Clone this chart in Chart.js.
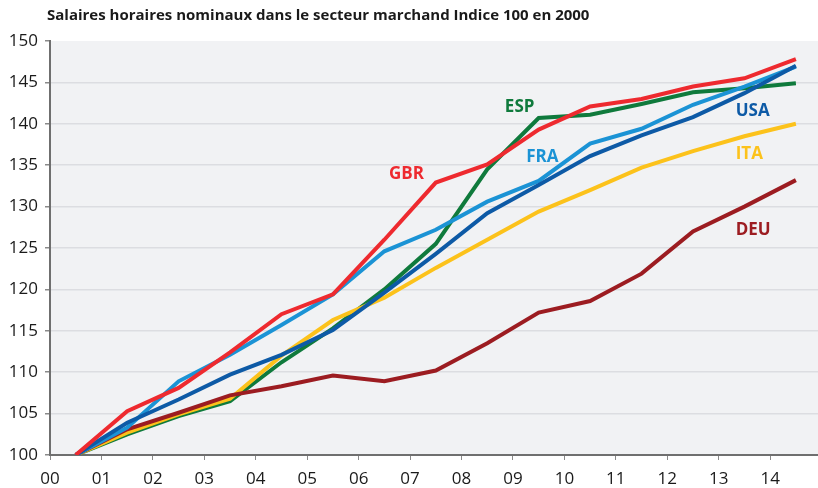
<!DOCTYPE html>
<html>
<head>
<meta charset="utf-8">
<script src="https://cdn.jsdelivr.net/npm/chart.js@4.4.1/dist/chart.umd.min.js"></script>
<style>
  html, body { margin: 0; padding: 0; background: #fff; }
  #wrap { width: 818px; height: 488px; }
</style>
</head>
<body>
<div id="wrap"><canvas id="lineChart"></canvas></div>
<script>
// années 2000 à 2014, points placés en milieu d'année
const years = [0, 1, 2, 3, 4, 5, 6, 7, 8, 9, 10, 11, 12, 13, 14];
const yTicks = [100, 105, 110, 115, 120, 125, 130, 135, 140, 145, 150];

const deu = [100, 103.1, 105.1, 107.2, 108.3, 109.6, 108.9, 110.2, 113.5, 117.2, 118.6, 121.9, 127.0, 130.0, 133.2];
const esp = [100, 102.5, 104.7, 106.5, 111.2, 115.3, 120.0, 125.5, 134.5, 140.7, 141.1, 142.4, 143.8, 144.3, 144.9];
const ita = [100, 102.7, 104.9, 106.8, 112.0, 116.3, 119.0, 122.6, 126.0, 129.4, 132.0, 134.7, 136.7, 138.5, 140.0];
const fra = [100, 103.3, 108.9, 112.1, 115.7, 119.4, 124.6, 127.2, 130.6, 133.1, 137.6, 139.4, 142.3, 144.5, 146.9];
const usa = [100, 103.9, 106.7, 109.7, 112.1, 115.1, 119.6, 124.3, 129.2, 132.6, 136.1, 138.6, 140.8, 143.7, 147.0];
const gbr = [100, 105.3, 108.1, 112.4, 117.0, 119.4, 126.0, 132.9, 135.1, 139.3, 142.1, 143.0, 144.5, 145.5, 147.8];

const colors = {
    DEU: '#9c1c21',
    ESP: '#0f7a3c',
    ITA: '#fcc21b',
    FRA: '#1b93d5',
    USA: '#0d5aa6',
    GBR: '#ee2a2f'
};

// étiquettes des séries (en coordonnées des axes)
const seriesLabels = [
    { text: 'GBR', x: 6.93, y: 133.9, align: 'center' },
    { text: 'ESP', x: 9.13, y: 142.0, align: 'center' },
    { text: 'FRA', x: 9.57, y: 136.0, align: 'center' },
    { text: 'USA', x: 13.33, y: 141.5, align: 'left' },
    { text: 'ITA', x: 13.33, y: 136.3, align: 'left' },
    { text: 'DEU', x: 13.33, y: 127.2, align: 'left' }
];

function toPoints(values) {
    return values.map((v, i) => ({ x: years[i] + 0.5, y: v }));
}

function line(name, values) {
    return {
        label: name,
        data: toPoints(values),
        borderColor: colors[name],
        backgroundColor: colors[name],
        borderWidth: 4,
        pointRadius: 0,
        tension: 0,
        borderJoinStyle: 'miter'
    };
}

const plotBackground = {
    id: 'plotBackground',
    beforeDraw(chart) {
        const { ctx, chartArea: a } = chart;
        ctx.save();
        ctx.fillStyle = '#f1f2f4';
        ctx.fillRect(a.left, a.top, a.right - a.left, a.bottom - a.top);
        ctx.restore();
    }
};

const titleAndLabels = {
    id: 'titleAndLabels',
    afterDraw(chart) {
        const { ctx, scales } = chart;
        ctx.save();
        ctx.fillStyle = '#1a1a1a';
        ctx.font = 'bold 15px "Open Sans"';
        ctx.textAlign = 'left';
        ctx.textBaseline = 'alphabetic';
        ctx.fillText('Salaires horaires nominaux dans le secteur marchand Indice 100 en 2000', 47, 20);

        ctx.font = 'bold 17px "Open Sans"';
        ctx.textBaseline = 'middle';
        seriesLabels.forEach(l => {
            ctx.fillStyle = colors[l.text];
            ctx.textAlign = l.align;
            ctx.fillText(l.text, scales.x.getPixelForValue(l.x), scales.y.getPixelForValue(l.y));
        });
        ctx.restore();
    }
};

const ctxLine = document.getElementById('lineChart').getContext('2d');
// le premier jeu de données est dessiné au-dessus
const lineChart = new Chart(ctxLine, {
    type: 'line',
    data: {
        datasets: [
            line('GBR', gbr),
            line('USA', usa),
            line('FRA', fra),
            line('DEU', deu),
            line('ITA', ita),
            line('ESP', esp)
        ]
    },
    options: {
        responsive: true,
        maintainAspectRatio: false,
        animation: false,
        events: [],
        layout: {
            padding: { top: 41, right: 0, left: 0, bottom: 0 }
        },
        plugins: {
            legend: { display: false },
            tooltip: { enabled: false }
        },
        scales: {
            x: {
                type: 'linear',
                min: 0,
                max: 14.93,
                afterFit(scale) { scale.height = 33; },
                border: { color: '#6f6f6f', width: 2 },
                grid: {
                    drawOnChartArea: false,
                    tickLength: 5,
                    tickColor: '#8a8a8a'
                },
                ticks: {
                    stepSize: 1,
                    includeBounds: false,
                    autoSkip: false,
                    maxRotation: 0,
                    padding: 9,
                    color: '#1a1a1a',
                    font: { family: '"Open Sans"', size: 17 },
                    callback: v => Number.isInteger(v) ? String(v).padStart(2, '0') : ''
                }
            },
            y: {
                min: 100,
                max: 150,
                afterFit(scale) { scale.width = 50; },
                afterBuildTicks(scale) {
                    scale.ticks = yTicks.map(v => ({ value: v }));
                },
                border: { color: '#6f6f6f', width: 2 },
                grid: {
                    color: ctx => (ctx.tick && (ctx.tick.value === 100 || ctx.tick.value === 150)) ? 'rgba(0,0,0,0)' : '#dcdde1',
                    lineWidth: 1.5,
                    tickLength: 5,
                    tickColor: '#8a8a8a'
                },
                ticks: {
                    padding: 7,
                    color: '#1a1a1a',
                    font: { family: '"Open Sans"', size: 17 }
                }
            }
        }
    },
    plugins: [plotBackground, titleAndLabels]
});
</script>
</body>
</html>
